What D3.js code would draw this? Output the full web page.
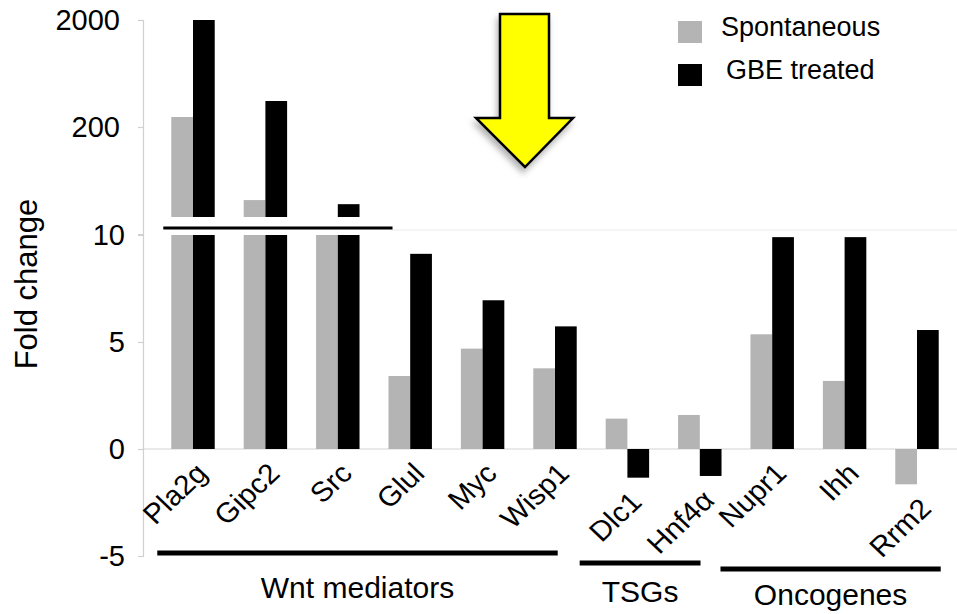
<!DOCTYPE html>
<html>
<head>
<meta charset="utf-8">
<script src="https://cdn.jsdelivr.net/npm/d3@7"></script>
<style>
  html, body { margin: 0; padding: 0; background: #fff; }
  svg { display: block; font-family: "Liberation Sans", Arial, sans-serif; }
</style>
</head>
<body>
<svg id="chart" width="957" height="614"></svg>
<script>
// ---------------- data ----------------
const categories  = ["Pla2g", "Gipc2", "Src", "Glul", "Myc", "Wisp1", "Dlc1", "Hnf4α", "Nupr1", "Ihh", "Rrm2"];
const spontaneous = [248, 41.5, 15, 3.41, 4.69, 3.77, 1.42, 1.59, 5.36, 3.18, -1.65];
const gbeTreated  = [2000, 350, 38, 9.12, 6.95, 5.73, -1.34, -1.26, 9.9, 9.9, 5.56];
const seriesNames = ["Spontaneous", "GBE treated"];
const lowerTicks  = [-5, 0, 5, 10];
const upperTicks  = [200, 2000];
const groupNames  = ["Wnt mediators", "TSGs", "Oncogenes"];
const groupFirst  = ["Pla2g", "Dlc1", "Nupr1"];
const groupLast   = ["Wisp1", "Hnf4α", "Rrm2"];

// ---------------- layout ----------------
const colors = ["#b4b4b4", "#000000"];
const svg = d3.select("#chart");
const axisX = 143;
const upperBottomPx = 217;      // bottom of clipped upper panel bars
const breakY = 228;

const x = d3.scaleBand().domain(categories).range([156.8, 953.2]).paddingInner(0.4).paddingOuter(0.2);
const x1 = d3.scaleBand().domain(seriesNames).range([0, x.bandwidth()]);
const yLow = d3.scaleLinear().domain([-5, 10]).range([556, 235]);
const yUp = d3.scaleLog().domain([20, 2000]).range([234, 20]);
const upperMin = yUp.invert(upperBottomPx);

// zero baseline
svg.append("line")
  .attr("x1", axisX).attr("x2", 957)
  .attr("y1", yLow(0)).attr("y2", yLow(0))
  .attr("stroke", "#d4d4d4").attr("stroke-width", 1.2);

// faint box lines (pasted-figure artefacts)
svg.append("line").attr("x1", 391).attr("x2", 957).attr("y1", 230).attr("y2", 230)
  .attr("stroke", "#f2f2f2").attr("stroke-width", 1.5);

// axes
function styleAxis(g) {
  g.select(".domain").attr("stroke", "#d0d0d0").attr("stroke-width", 1.2);
  g.selectAll(".tick line").attr("stroke", "#d0d0d0").attr("stroke-width", 1.2);
  g.selectAll(".tick text").attr("font-size", 29).attr("fill", "#000")
    .attr("font-family", "Liberation Sans, Arial, sans-serif");
}
const fmt = d => String(d);
const gLow = svg.append("g").attr("transform", `translate(${axisX},0)`)
  .call(d3.axisLeft(yLow).tickValues(lowerTicks).tickSize(5).tickPadding(13).tickFormat(fmt));
styleAxis(gLow);
const gUp = svg.append("g").attr("transform", `translate(${axisX},0)`)
  .call(d3.axisLeft(yUp).tickValues(upperTicks).tickSize(5).tickPadding(18).tickFormat(fmt));
styleAxis(gUp);

// y title
svg.append("text")
  .attr("transform", `translate(37,284) rotate(-90)`)
  .attr("text-anchor", "middle")
  .attr("font-size", 31)
  .text("Fold change");

// bars
const rows = categories.map((c, i) => ({ cat: c, vals: [spontaneous[i], gbeTreated[i]] }));
const barG = svg.append("g");
rows.forEach(r => {
  r.vals.forEach((v, j) => {
    const bx = x(r.cat) + x1(seriesNames[j]);
    const bw = x1.bandwidth();
    const vl = Math.max(-5, Math.min(10, v));
    barG.append("rect")
      .attr("x", bx).attr("width", bw)
      .attr("y", yLow(Math.max(0, vl)))
      .attr("height", Math.abs(yLow(vl) - yLow(0)))
      .attr("fill", colors[j]);
    if (v > upperMin) {
      barG.append("rect")
        .attr("x", bx).attr("width", bw)
        .attr("y", yUp(v))
        .attr("height", upperBottomPx - yUp(v))
        .attr("fill", colors[j]);
    }
  });
});

// axis break line
svg.append("line")
  .attr("x1", x("Pla2g") - 8).attr("x2", x("Src") + x.bandwidth() + 33)
  .attr("y1", breakY).attr("y2", breakY)
  .attr("stroke", "#000").attr("stroke-width", 3.2);

// category labels
rows.forEach(r => {
  const minV = Math.min(0, r.vals[0], r.vals[1]);
  const ex = x(r.cat) + x.bandwidth() / 2 + 16;
  const ey = minV < 0 ? yLow(minV) + 26 : yLow(0) + 26;
  svg.append("text")
    .attr("transform", `translate(${ex},${ey}) scale(1.06,1) rotate(-45)`)
    .attr("text-anchor", "end")
    .attr("font-size", 28)
    .text(r.cat);
});

// group brackets
const bracketDx0 = [-14, -26, -30];
const bracketDx1 = [-19, -21, 2];
const bracketY   = [553, 563, 569];
const groupTextY = [598, 602, 605];
groupNames.forEach((g, i) => {
  const x0 = x(groupFirst[i]) + bracketDx0[i];
  const x2 = x(groupLast[i]) + x.bandwidth() + bracketDx1[i];
  svg.append("line")
    .attr("x1", x0).attr("x2", x2)
    .attr("y1", bracketY[i]).attr("y2", bracketY[i])
    .attr("stroke", "#000").attr("stroke-width", 5);
  svg.append("text")
    .attr("x", (x0 + x2) / 2).attr("y", groupTextY[i])
    .attr("text-anchor", "middle")
    .attr("font-size", 30)
    .text(g);
});

// legend
const legX = 678;
const legY = [21, 64];
const legTextX = [721, 726];
seriesNames.forEach((s, i) => {
  svg.append("rect")
    .attr("x", legX).attr("y", legY[i])
    .attr("width", 24).attr("height", 22)
    .attr("fill", colors[i]);
  svg.append("text")
    .attr("x", legTextX[i]).attr("y", legY[i] + 15)
    .attr("font-size", 27)
    .text(s);
});

// yellow arrow annotation
const defs = svg.append("defs");
const f = defs.append("filter").attr("id", "shadow").attr("x", "-30%").attr("y", "-30%").attr("width", "160%").attr("height", "160%");
f.append("feDropShadow").attr("dx", -2).attr("dy", 5).attr("stdDeviation", 3)
  .attr("flood-color", "#000").attr("flood-opacity", 0.3);
const arrowPts = [[500,14],[549,14],[549,118],[573,118],[525,167],[476,118],[500,118]];
svg.append("path")
  .attr("d", d3.line()(arrowPts) + "Z")
  .attr("fill", "#ffff00")
  .attr("stroke", "#000")
  .attr("stroke-width", 2.5)
  .attr("stroke-linejoin", "miter")
  .attr("filter", "url(#shadow)");
</script>
</body>
</html>
